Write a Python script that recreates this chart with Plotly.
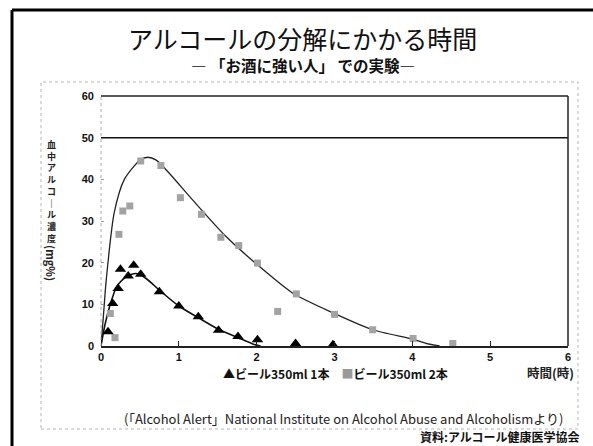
import plotly.graph_objects as go

# ---- data ----
t_one = [0.09, 0.15, 0.22, 0.25, 0.35, 0.42, 0.51, 0.75, 1.0, 1.25, 1.51, 1.76, 2.01, 2.5, 2.98]
c_one = [3.4, 10.2, 13.8, 18.4, 16.8, 19.4, 17.2, 13.0, 9.6, 7.0, 3.8, 2.3, 1.5, 0.6, 0.3]

t_two = [0.12, 0.18, 0.23, 0.28, 0.37, 0.51, 0.77, 1.02, 1.29, 1.54, 1.77, 2.01, 2.27, 2.51, 3.0, 3.49, 4.01, 4.52]
c_two = [7.8, 2.0, 26.8, 32.4, 33.6, 44.4, 43.3, 35.6, 31.6, 26.1, 24.1, 19.9, 8.3, 12.5, 7.6, 3.9, 1.8, 0.6]

# fitted curves
fit_one_t = [0, 0.05, 0.11, 0.2, 0.32, 0.45, 0.58, 0.75, 1.0, 1.25, 1.51, 1.76, 1.95, 2.05]
fit_one_c = [0, 5.0, 9.4, 14.2, 16.6, 17.4, 16.2, 13.4, 9.6, 6.8, 4.0, 2.0, 0.5, 0]

fit_two_t = [0, 0.03, 0.067, 0.17, 0.30, 0.5, 0.6, 0.71, 0.88, 1.18, 1.61, 2.04, 2.47, 3.0, 3.49, 4.01, 4.18, 4.35]
fit_two_c = [0, 7.0, 15.8, 32.0, 40.0, 44.6, 45.3, 44.6, 41.4, 35.0, 26.2, 19.0, 12.6, 7.8, 3.9, 1.6, 0.6, 0]

ref_level = 50
x_ticks = [0, 1, 2, 3, 4, 5, 6]
y_ticks = [0, 10, 20, 30, 40, 50, 60]

title = "アルコールの分解にかかる時間"
subtitle = "― 「お酒に強い人」 での実験―"
legend_text = "▲ビール350ml 1本　<span style='color:#9a9a9a'>■</span>ビール350ml 2本"
x_label = "時間(時)"
y_label_jp = "血中アルコール濃度"
y_label_unit = "(mg%)"
source_text = "(「Alcohol Alert」National Institute on Alcohol Abuse and Alcoholismより)"
credit_text = "資料:アルコール健康医学協会"

JP = "Noto Sans CJK JP"

# ---- layout geometry (pixels) ----
W, H = 593, 446
L, R, T, B = 101, 568, 96, 346   # plot area


def px(x):
    return (x - L) / (R - L)


def py(y):
    return (B - y) / (B - T)


fig = go.Figure()

fig.add_trace(go.Scatter(x=fit_two_t, y=fit_two_c, mode="lines",
                         line=dict(color="#222", width=1.3, shape="spline", smoothing=0.7),
                         showlegend=False, hoverinfo="skip"))
fig.add_trace(go.Scatter(x=fit_one_t, y=fit_one_c, mode="lines",
                         line=dict(color="#111", width=1.6, shape="spline", smoothing=0.7),
                         showlegend=False, hoverinfo="skip"))
fig.add_trace(go.Scatter(x=t_two, y=c_two, mode="markers",
                         marker=dict(symbol="square", size=7, color="#a3a3a3"),
                         name="ビール350ml 2本", showlegend=False))
fig.add_trace(go.Scatter(x=t_one, y=c_one, mode="markers",
                         marker=dict(symbol="triangle-up", size=10, color="#000"),
                         name="ビール350ml 1本", showlegend=False))

# reference line at 50
fig.add_shape(type="line", xref="x", yref="y", x0=0, x1=6, y0=ref_level, y1=ref_level,
              line=dict(color="#111", width=1.5))

# plot box: top and right solid, left faint dotted
fig.add_shape(type="line", xref="paper", yref="paper", x0=0, x1=1, y0=1, y1=1,
              line=dict(color="#222", width=1.5))
fig.add_shape(type="line", xref="paper", yref="paper", x0=1, x1=1, y0=0, y1=1,
              line=dict(color="#222", width=1.5))
fig.add_shape(type="line", xref="paper", yref="paper", x0=0, x1=0, y0=0, y1=1,
              line=dict(color="#aaa", width=1, dash="dot"))

# inner dotted frame
fig.add_shape(type="rect", xref="paper", yref="paper",
              x0=px(41), x1=px(578), y0=py(429), y1=py(82),
              line=dict(color="#b5b5b5", width=1, dash="dot"))

# outer thick frame (left and top)
fig.add_shape(type="line", xref="paper", yref="paper",
              x0=px(12), x1=px(12), y0=py(446), y1=py(10),
              line=dict(color="#000", width=3))
fig.add_shape(type="line", xref="paper", yref="paper",
              x0=px(12), x1=px(593), y0=py(10), y1=py(10),
              line=dict(color="#000", width=3))

ann = []
ann.append(dict(text=title, x=px(302), y=py(38), font=dict(family=JP, size=25, color="#111")))
ann.append(dict(text=subtitle, x=px(303), y=py(65), font=dict(family=JP, size=15.5, color="#111", weight="bold")))
ann.append(dict(text=legend_text, x=px(335), y=py(373),
                font=dict(family=JP, size=12, color="#111", weight="bold")))
ann.append(dict(text=x_label, x=px(550), y=py(372),
                font=dict(family=JP, size=12.5, color="#222", weight="bold")))
ann.append(dict(text=source_text, x=px(343), y=py(418),
                font=dict(family=JP, size=13, color="#222")))
ann.append(dict(text=credit_text, x=px(500), y=py(437),
                font=dict(family=JP, size=12, color="#111", weight="bold")))

# vertical y label: upright characters stacked, unit rotated
stack = "<br>".join(list(y_label_jp.replace("ー", "｜")))
ann.append(dict(text=stack, x=px(51), y=py(191), align="center",
                font=dict(family=JP, size=9, color="#222", weight="bold")))
ann.append(dict(text=y_label_unit, x=px(51), y=py(263), textangle=90,
                font=dict(family=JP, size=11, color="#222", weight="bold")))

for a in ann:
    a.update(xref="paper", yref="paper", showarrow=False, xanchor="center", yanchor="middle")

fig.update_layout(
    width=W, height=H,
    margin=dict(l=L, r=W - R, t=T, b=H - B),
    paper_bgcolor="white", plot_bgcolor="white",
    annotations=ann,
    showlegend=False,
    xaxis=dict(range=[0, 6], tickvals=x_ticks, ticks="inside", ticklen=5, tickcolor="#222",
               showgrid=False, zeroline=False, showline=True, linecolor="#222", linewidth=1.5,
               tickfont=dict(family="Liberation Sans", size=11, color="#111", weight="bold")),
    yaxis=dict(range=[0, 60], tickvals=y_ticks, ticks="inside", ticklen=3, tickcolor="#999",
               showgrid=False, zeroline=False, showline=False, ticklabelstandoff=6,
               tickfont=dict(family="Liberation Sans", size=11, color="#111", weight="bold")),
)

fig.write_html("out.html", config={"displayModeBar": False},
               post_script="document.body.style.margin='0';document.body.style.overflow='hidden';")
